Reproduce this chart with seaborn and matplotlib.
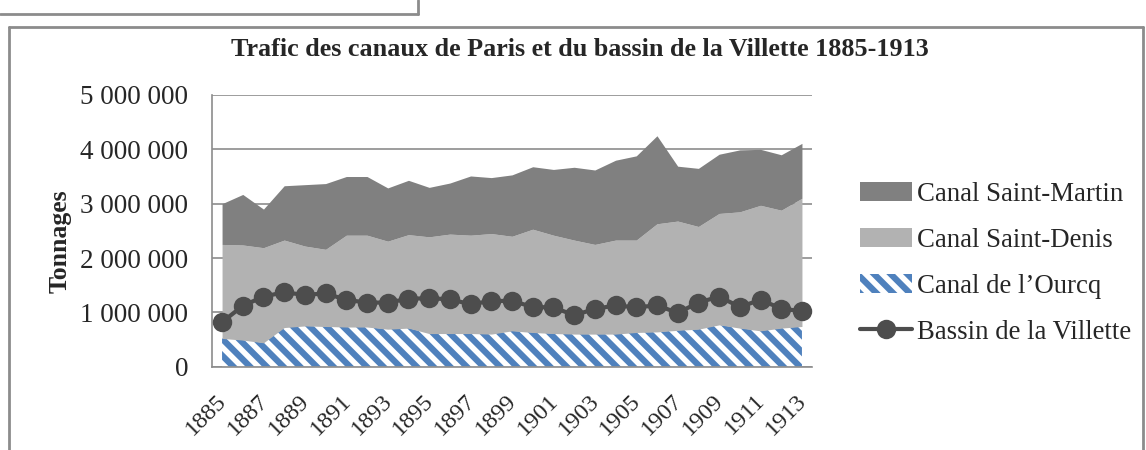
import matplotlib
matplotlib.use("Agg")
import matplotlib.pyplot as plt
from matplotlib.lines import Line2D
from matplotlib.ticker import FuncFormatter, FixedLocator
from matplotlib.transforms import ScaledTranslation
import seaborn as sns
import numpy as np

# Données (en milliers de tonnes)
years = list(range(1885, 1914))
ourcq = [520, 490, 440, 720, 750, 740, 730, 730, 690, 710,
         610, 610, 610, 600, 660, 630, 610, 600, 600, 600,
         630, 640, 670, 690, 770, 710, 660, 710, 740]
saint_denis = [1730, 1750, 1750, 1610, 1470, 1420, 1690, 1690, 1620, 1720,
               1780, 1830, 1810, 1850, 1740, 1900, 1810, 1730, 1650, 1730,
               1700, 1990, 2010, 1890, 2050, 2140, 2310, 2170, 2360]
saint_martin = [750, 930, 710, 1000, 1130, 1210, 1080, 1080, 980, 1000,
                910, 940, 1090, 1030, 1130, 1150, 1210, 1340, 1370, 1470,
                1550, 1620, 1010, 1070, 1090, 1140, 1030, 1020, 1010]
villette = [820, 1120, 1290, 1370, 1320, 1350, 1230, 1180, 1180, 1250,
            1260, 1240, 1150, 1210, 1210, 1100, 1090, 950, 1060, 1130,
            1090, 1130, 990, 1180, 1290, 1100, 1230, 1070, 1020]

ourcq = np.array(ourcq) * 1000
saint_denis = np.array(saint_denis) * 1000
saint_martin = np.array(saint_martin) * 1000
villette = np.array(villette) * 1000

W, H = 1146, 450
sns.set_theme(style="white")
plt.rcParams['font.family'] = ['Liberation Serif', 'DejaVu Serif']
plt.rcParams['hatch.linewidth'] = 4.5
plt.rcParams['hatch.color'] = '#4f81bd'

fig = plt.figure(figsize=(W / 100, H / 100), dpi=100)
ax = fig.add_axes([211.7 / W, 1 - 366.7 / H, 600.6 / W, 271.7 / H])

x = np.arange(len(years))
polys = ax.stackplot(x, ourcq, saint_denis, saint_martin,
                     colors=['white', '#b2b2b2', '#808080'],
                     labels=['Canal de l\u2019Ourcq', 'Canal Saint-Denis', 'Canal Saint-Martin'],
                     linewidth=0, zorder=2)
polys[0].set_hatch('\\\\')
polys[0].set_edgecolor('#4f81bd')
polys[0].set_linewidth(0)

sns.lineplot(x=x, y=villette, ax=ax, color='#4d4d4d', marker='o',
             markersize=14, linewidth=3, markeredgewidth=0,
             label='Bassin de la Villette', zorder=4)

ax.set_xlim(-0.5, len(years) - 0.5)
ax.set_ylim(0, 5_000_000)
ax.set_yticks(np.arange(0, 5_000_001, 1_000_000))
ax.yaxis.set_major_formatter(FuncFormatter(lambda v, p: f"{v:,.0f}".replace(',', ' ')))
ax.yaxis.grid(True, color='#8c8c8c', linewidth=1.2, zorder=1)
ax.set_axisbelow(True)
ax.tick_params(axis='y', length=0, pad=17, labelsize=19.5)

ax.set_xticks(x[::2])
ax.set_xticklabels([str(y) for y in years[::2]], rotation=45, ha='right',
                   rotation_mode='anchor', fontsize=17.5)
ax.xaxis.set_minor_locator(FixedLocator(np.arange(-0.5, len(years), 1.0)))
ax.tick_params(axis='x', which='major', length=0, pad=17)
ax.tick_params(axis='x', which='minor', length=6, width=1.2, color='#8c8c8c', direction='out')
shift = ScaledTranslation(-6 / 100, 0, fig.dpi_scale_trans)
for lab in ax.get_xticklabels():
    lab.set_transform(lab.get_transform() + shift)

for s in ['top', 'right']:
    ax.spines[s].set_visible(False)
for s in ['left', 'bottom']:
    ax.spines[s].set_color('#8c8c8c')
    ax.spines[s].set_linewidth(1.2)
ax.set_xlabel('')
ax.set_ylabel('')

fig.text(580 / W, 1 - 56 / H, 'Trafic des canaux de Paris et du bassin de la Villette 1885-1913',
         ha='center', va='baseline', fontsize=18.8, fontweight='bold')
fig.text(60 / W, 1 - 241 / H, 'Tonnages', rotation=90, ha='center', va='center',
         fontsize=18.5, fontweight='bold')

handles, labels = ax.get_legend_handles_labels()
ax.get_legend().remove()
order = [labels.index(l) for l in ['Canal Saint-Martin', 'Canal Saint-Denis',
                                   'Canal de l\u2019Ourcq', 'Bassin de la Villette']]
fig.legend([handles[i] for i in order], [labels[i] for i in order],
           loc='upper left', bbox_to_anchor=(860 / W, 1 - 182 / H),
           frameon=False, fontsize=19.3, handlelength=1.94, handletextpad=0.2,
           labelspacing=0.78, borderaxespad=0, borderpad=0)

# cadres
def fline(xs, ys, lw=2, color='#8c8c8c'):
    fig.add_artist(Line2D([v / W for v in xs], [1 - v / H for v in ys],
                          transform=fig.transFigure, color=color, linewidth=lw))

fline([0, 418], [14, 14])
fline([418, 418], [0, 14])
fline([9, 1143], [27, 27])
fline([9, 9], [27, 450])
fline([1143, 1143], [27, 450])

fig.savefig('out.png', dpi=100)
